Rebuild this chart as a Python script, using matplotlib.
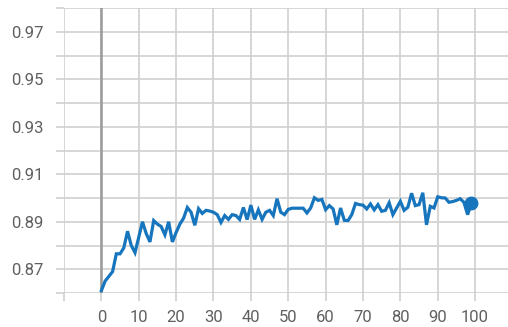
import matplotlib
matplotlib.use("Agg")
import matplotlib.pyplot as plt
from matplotlib.ticker import FixedLocator, NullFormatter

epochs = list(range(100))
accuracy = [
    0.861, 0.865, 0.867, 0.869, 0.8765, 0.8765, 0.879, 0.886, 0.880, 0.877,
    0.8835, 0.890, 0.885, 0.8815, 0.8905, 0.889, 0.888, 0.8845, 0.890, 0.8815,
    0.8855, 0.889, 0.8915, 0.896, 0.894, 0.8885, 0.8955, 0.8935, 0.8948, 0.8945,
    0.894, 0.893, 0.8897, 0.8926, 0.891, 0.893, 0.8926, 0.891, 0.896, 0.8909,
    0.897, 0.891, 0.895, 0.891, 0.894, 0.8948, 0.8926, 0.8997, 0.894, 0.893,
    0.8952, 0.8957, 0.8957, 0.8957, 0.8957, 0.8937, 0.8958, 0.9001, 0.899, 0.8994,
    0.8951, 0.8968, 0.8954, 0.8887, 0.8958, 0.8906, 0.8905, 0.893, 0.8977, 0.8972,
    0.897, 0.8954, 0.8975, 0.895, 0.8972, 0.8944, 0.8948, 0.898, 0.893, 0.8958,
    0.8986, 0.8948, 0.8961, 0.902, 0.8968, 0.8972, 0.9022, 0.8887, 0.8965, 0.8958,
    0.9005, 0.9001, 0.900, 0.8982, 0.8985, 0.899, 0.8997, 0.8982, 0.893, 0.8977,
]
x_major = [0, 10, 20, 30, 40, 50, 60, 70, 80, 90, 100]
x_minor = [-10]
y_major = [0.87, 0.89, 0.91, 0.93, 0.95, 0.97]
y_minor = [0.86, 0.88, 0.90, 0.92, 0.94, 0.96, 0.98]
y_labels = ["0.87", "0.89", "0.91", "0.93", "0.95", "0.97"]

plt.rcParams['font.family'] = ['Roboto', 'DejaVu Sans']

fig = plt.figure(figsize=(5.08, 3.27), dpi=100)
ax = fig.add_axes([64/508, 34/327, 444/508, 285/327])

grid_c = '#d0d0d0'
ax.set_xlim(-10, 108.8)
ax.set_ylim(0.86, 0.98)
ax.xaxis.set_major_locator(FixedLocator(x_major))
ax.xaxis.set_minor_locator(FixedLocator(x_minor))
ax.yaxis.set_major_locator(FixedLocator(y_major))
ax.yaxis.set_minor_locator(FixedLocator(y_minor))
ax.set_yticklabels(y_labels)
ax.xaxis.set_minor_formatter(NullFormatter())
ax.yaxis.set_minor_formatter(NullFormatter())
ax.grid(True, which='both', color=grid_c, linewidth=1.2)
ax.tick_params(which='both', length=5.5, width=1.2, color=grid_c,
               labelsize=12, labelcolor='#606060')
ax.tick_params(axis='y', which='both', pad=9)
ax.tick_params(axis='x', which='both', pad=6.5)
for s in ax.spines.values():
    s.set_visible(False)
ax.set_axisbelow(True)

ax.axvline(0, color='#9a9a9a', linewidth=1.8, zorder=1.5)
ax.plot(epochs, accuracy, color='#1775bd', linewidth=2.3, zorder=3,
        solid_joinstyle='miter')
ax.plot(epochs[-1:], accuracy[-1:], 'o', color='#1775bd', markersize=9, zorder=4)

fig.savefig('out.png', dpi=100)
